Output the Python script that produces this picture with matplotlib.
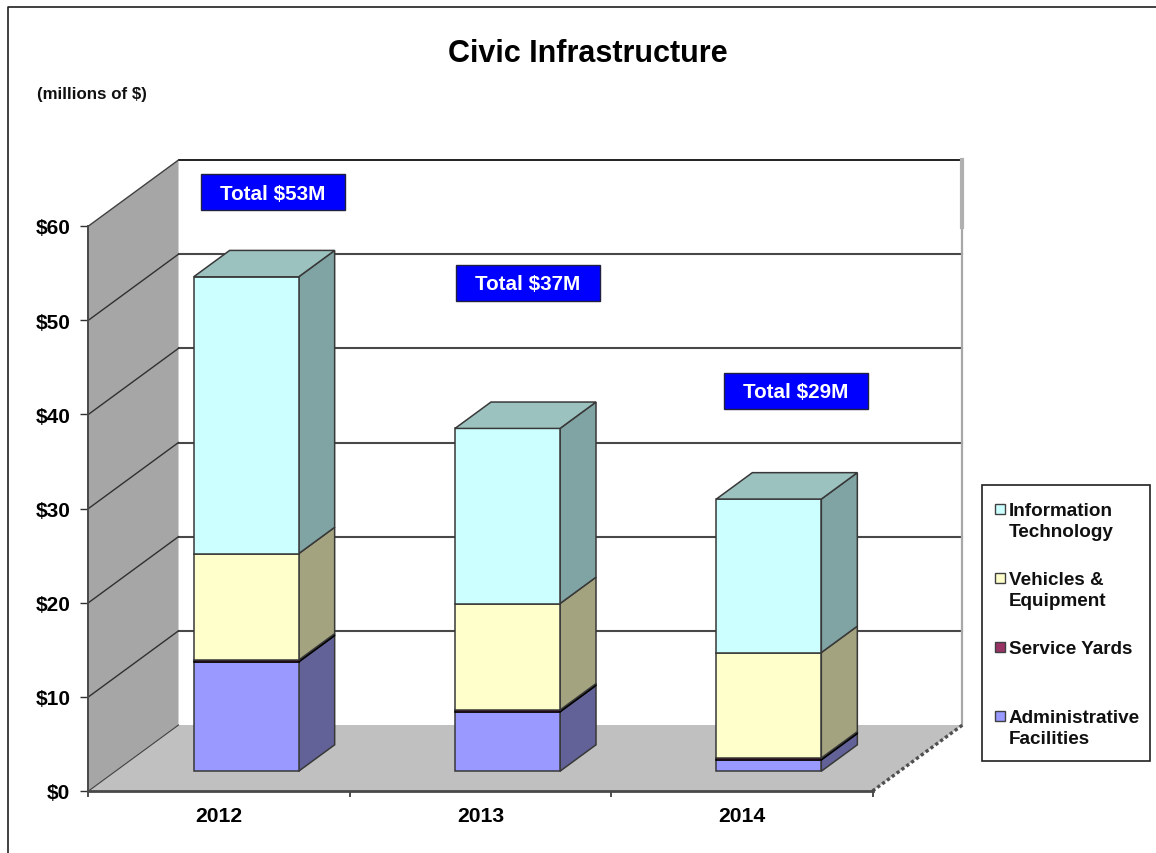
import matplotlib
matplotlib.use('Agg')
import matplotlib.pyplot as plt
from matplotlib.patches import Rectangle

plt.rcParams['font.family'] = ['Liberation Sans', 'DejaVu Sans']
plt.rcParams['font.weight'] = 'bold'

years = ['2012', '2013', '2014']
admin = [11.6, 6.3, 1.2]
service_yards = [0.2, 0.2, 0.2]
vehicles = [11.3, 11.3, 11.2]
info_tech = [29.4, 18.6, 16.3]
totals = [53, 37, 29]
y_ticks = [0, 10, 20, 30, 40, 50, 60]

W, H = 1156, 854
fig = plt.figure(figsize=(W / 100, H / 100), dpi=100)
ax = fig.add_axes([88.5 / W, (H - 792) / H, 784 / W, 565 / H])
ax.set_xlim(0, 3)
ax.set_ylim(0, 60)
ax.patch.set_visible(False)

# oblique projection: depth 0 is the front plane, depth 1 the back wall
DX = 90 / (784 / 3)
DY = 66 / (565 / 60)


def project(x, y, depth):
    return x + depth * DX, y + depth * DY


def face(points, color, edge='#383838', lw=1.1, z=1):
    xs, ys = zip(*[project(*p) for p in points])
    ax.fill(xs, ys, facecolor=color, edgecolor=edge, linewidth=lw, zorder=z, clip_on=False)


def line3d(p0, p1, color, lw=1.5, ls='-', z=1.5):
    x0, y0 = project(*p0)
    x1, y1 = project(*p1)
    ax.plot([x0, x1], [y0, y1], color=color, lw=lw, ls=ls, zorder=z, clip_on=False)


# walls and floor
face([(0, 0, 1), (3, 0, 1), (3, 60, 1), (0, 60, 1)], 'white', edge='none')
face([(0, 0, 0), (0, 0, 1), (0, 60, 1), (0, 60, 0)], '#A6A6A6', edge='none')
face([(0, 0, 0), (3, 0, 0), (3, 0, 1), (0, 0, 1)], '#C0C0C0', edge='none')

for level in y_ticks[1:-1]:
    line3d((0, level, 1), (3, level, 1), '#484848')
    line3d((0, level, 0), (0, level, 1), '#303030', lw=1.0)
line3d((0, 60, 1), (3, 60, 1), '#202020', lw=1.4)
line3d((0, 60, 0), (0, 60, 1), '#404040', lw=1.0)
line3d((0, 0, 0), (0, 0, 1), '#404040', lw=0.8)
line3d((3, 0, 1), (3, 60, 1), '#A8A8A8', lw=1.6)
line3d((3, 52.9, 1), (3, 60, 1), '#B0B0B0', lw=3.0)
line3d((3, 0, 0), (3, 0, 1), '#505050', lw=2.4, ls=(0, (1, 0.8)))

# stacked boxes, back edge and front edge of each bar sit inside the floor depth
bar_width = 105 / (784 / 3)
front, back = 0.3, 0.7
series = [
    (admin, '#9999FF', '#626299', '#383838'),
    (service_yards, '#993366', '#000000', '#000000'),
    (vehicles, '#FFFFCC', '#A3A380', '#383838'),
    (info_tech, '#CCFFFF', '#80A3A3', '#383838'),
]
top_color = '#9CC2C0'

for i in range(len(years)):
    left = i + 0.5 - bar_width / 2
    right = left + bar_width
    base = 0.0
    for values, color, side, edge in series:
        v = values[i]
        face([(right, base, front), (right, base, back), (right, base + v, back), (right, base + v, front)],
             side, edge=edge, z=3)
        face([(left, base, front), (right, base, front), (right, base + v, front), (left, base + v, front)],
             color, edge=edge, z=3)
        base += v
    face([(left, base, front), (right, base, front), (right, base, back), (left, base, back)],
         top_color, z=3)

ax.set_xticks([0, 1, 2, 3])
ax.set_xticklabels([])
ax.set_xticks([0.5, 1.5, 2.5], minor=True)
ax.set_xticklabels(years, minor=True, fontsize=15.2, fontweight='bold')
ax.tick_params(axis='x', which='major', length=4, width=1.2, color='#303030')
ax.tick_params(axis='x', which='minor', length=0, pad=11)
ax.set_yticks(y_ticks)
ax.set_yticklabels(['$' + str(t) for t in y_ticks], fontsize=15, fontweight='bold')
ax.tick_params(axis='y', length=6, width=1.0, color='#303030', pad=7)
for name in ['top', 'right']:
    ax.spines[name].set_visible(False)
ax.spines['left'].set_linewidth(1.4)
ax.spines['left'].set_color('#484848')
ax.spines['bottom'].set_linewidth(2.0)
ax.spines['bottom'].set_color('#484848')

# page furniture laid out in pixel coordinates
page = fig.add_axes([0, 0, 1, 1])
page.set_xlim(0, W)
page.set_ylim(H, 0)
page.axis('off')
page.patch.set_visible(False)

page.plot([8, 8, W], [H, 7.5, 7.5], color='#202020', lw=1.2, clip_on=False)
page.text(588, 54.5, 'Civic Infrastructure', ha='center', va='center', fontsize=22, fontweight='bold')
page.text(37, 94, '(millions of $)', ha='left', va='center', fontsize=12.2, fontweight='bold', color='#101010')

box_spots = [(201, 175), (456, 266), (724, 374)]
for (bx, by), total in zip(box_spots, totals):
    page.add_patch(Rectangle((bx, by), 144, 36, facecolor='#0000FF', edgecolor='#202040', lw=1.0, zorder=5))
    page.text(bx + 72, by + 19, 'Total $%dM' % total, color='white', ha='center', va='center',
              fontsize=14.9, fontweight='bold', zorder=6)

page.add_patch(Rectangle((982, 486), 168, 276, facecolor='white', edgecolor='#202020', lw=1.2))
legend_rows = [
    ('Information\nTechnology', '#CCFFFF', 510),
    ('Vehicles &\nEquipment', '#FFFFCC', 579),
    ('Service Yards', '#993366', 648),
    ('Administrative\nFacilities', '#9999FF', 717),
]
for label, color, ly in legend_rows:
    page.add_patch(Rectangle((995, ly - 5), 10, 10, facecolor=color, edgecolor='#404040', lw=1.0))
    page.text(1009, ly - 7, label, ha='left', va='top', fontsize=13.6, fontweight='bold',
              linespacing=1.27, color='#101010')

fig.savefig('out.png', dpi=100)
